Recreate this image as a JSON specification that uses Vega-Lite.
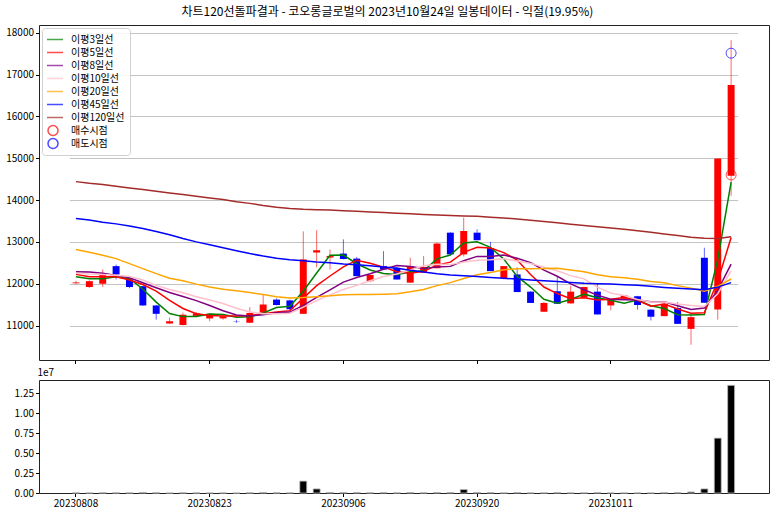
{
  "$schema": "https://vega.github.io/schema/vega-lite/v6.json",
  "padding": {"left": 5, "top": 5, "right": 5, "bottom": 5},
  "title": {"text": "차트120선돌파결과 - 코오롱글로벌의 2023년10월24일 일봉데이터 - 익절(19.95%)", "font": "Noto Sans CJK KR", "fontSize": 12, "fontWeight": "normal", "anchor": "middle", "offset": 6, "color": "#000"},
  "config": {
    "font": "Noto Sans CJK KR",
    "view": {"stroke": "#222", "strokeWidth": 1},
    "axis": {"domain": false, "labelFont": "Noto Sans CJK KR", "labelFontSize": 10, "labelColor": "#000", "tickColor": "#000", "tickSize": 3.5, "labelPadding": 2, "grid": false},
    "legend": {"labelFont": "Noto Sans CJK KR", "labelFontSize": 10, "labelColor": "#000"}
  },
  "datasets": {
    "signals": [
      {"date": "20231024", "series": "매수시점", "price": 14600},
      {"date": "20231024", "series": "매도시점", "price": 17510}
    ]
  },
  "data": {"values": [
    {"date":"20230808","open":12010,"high":12070,"low":11990,"close":12030,"volume":20000,"이평3일선":12168,"이평5일선":12223,"이평8일선":12288,"이평10일선":12250,"이평20일선":12820,"이평45일선":13560,"이평120일선":14440},
    {"date":"20230809","open":11920,"high":12080,"low":11900,"close":12060,"volume":15000,"이평3일선":12120,"이평5일선":12168,"이평8일선":12280,"이평10일선":12230,"이평20일선":12750,"이평45일선":13520,"이평120일선":14400},
    {"date":"20230810","open":12000,"high":12340,"low":11920,"close":12220,"volume":30000,"이평3일선":12120,"이평5일선":12168,"이평8일선":12247,"이평10일선":12220,"이평20일선":12680,"이평45일선":13470,"이평120일선":14370},
    {"date":"20230811","open":12420,"high":12460,"low":12100,"close":12220,"volume":25000,"이평3일선":12167,"이평5일선":12168,"이평8일선":12199,"이평10일선":12200,"이평20일선":12600,"이평45일선":13430,"이평120일선":14330},
    {"date":"20230814","open":12100,"high":12110,"low":11890,"close":11920,"volume":20000,"이평3일선":12120,"이평5일선":12090,"이평8일선":12143,"이평10일선":12170,"이평20일선":12480,"이평45일선":13380,"이평120일선":14290},
    {"date":"20230816","open":11940,"high":11950,"low":11470,"close":11480,"volume":70000,"이평3일선":11873,"이평5일선":11980,"이평8일선":12024,"이평10일선":12087,"이평20일선":12360,"이평45일선":13320,"이평120일선":14250},
    {"date":"20230817","open":11480,"high":11490,"low":11140,"close":11280,"volume":30000,"이평3일선":11560,"이평5일선":11824,"이평8일선":11904,"이평10일선":11960,"이평20일선":12240,"이평45일선":13250,"이평120일선":14210},
    {"date":"20230818","open":11050,"high":11190,"low":11040,"close":11100,"volume":15000,"이평3일선":11287,"이평5일선":11600,"이평8일선":11789,"이평10일선":11863,"이평20일선":12130,"이평45일선":13170,"이평120일선":14170},
    {"date":"20230821","open":11010,"high":11310,"low":11000,"close":11260,"volume":20000,"이평3일선":11213,"이평5일선":11408,"이평8일선":11693,"이평10일선":11784,"이평20일선":12070,"이평45일선":13080,"이평120일선":14130},
    {"date":"20230822","open":11230,"high":11320,"low":11200,"close":11290,"volume":15000,"이평3일선":11217,"이평5일선":11282,"이평8일선":11596,"이평10일선":11686,"이평20일선":11990,"이평45일선":13000,"이평120일선":14090},
    {"date":"20230823","open":11170,"high":11300,"low":11100,"close":11280,"volume":12000,"이평3일선":11277,"이평5일선":11242,"이평8일선":11479,"이평10일선":11611,"이평20일선":11920,"이평45일선":12930,"이평120일선":14050},
    {"date":"20230824","open":11170,"high":11240,"low":11140,"close":11220,"volume":15000,"이평3일선":11263,"이평5일선":11230,"이평8일선":11354,"이평10일선":11527,"이평20일선":11870,"이평45일선":12860,"이평120일선":14010},
    {"date":"20230825","open":11110,"high":11140,"low":11060,"close":11100,"volume":10000,"이평3일선":11200,"이평5일선":11230,"이평8일선":11251,"이평10일선":11415,"이평20일선":11830,"이평45일선":12790,"이평120일선":13960},
    {"date":"20230828","open":11065,"high":11440,"low":11060,"close":11300,"volume":20000,"이평3일선":11207,"이평5일선":11238,"이평8일선":11229,"이평10일선":11323,"이평20일선":11790,"이평45일선":12720,"이평120일선":13920},
    {"date":"20230829","open":11305,"high":11730,"low":11300,"close":11500,"volume":60000,"이평3일선":11300,"이평5일선":11280,"이평8일선":11256,"이평10일선":11281,"이평20일선":11740,"이평45일선":12660,"이평120일선":13870},
    {"date":"20230830","open":11620,"high":11650,"low":11480,"close":11490,"volume":30000,"이평3일선":11430,"이평5일선":11322,"이평8일선":11305,"이평10일선":11282,"이평20일선":11690,"이평45일선":12610,"이평120일선":13830},
    {"date":"20230831","open":11600,"high":11620,"low":11360,"close":11390,"volume":25000,"이평3일선":11460,"이평5일선":11356,"이평8일선":11321,"이평10일선":11293,"이평20일선":11660,"이평45일선":12570,"이평120일선":13800},
    {"date":"20230901","open":11280,"high":13250,"low":11280,"close":12580,"volume":1490000,"이평3일선":11820,"이평5일선":11652,"이평8일선":11483,"이평10일선":11441,"이평20일선":11670,"이평45일선":12550,"이평120일선":13780},
    {"date":"20230904","open":12745,"high":13280,"low":12390,"close":12800,"volume":510000,"이평3일선":12257,"이평5일선":11952,"이평8일선":11673,"이평10일선":11595,"이평20일선":11690,"이평45일선":12520,"이평120일선":13770},
    {"date":"20230905","open":12625,"high":12820,"low":12340,"close":12660,"volume":70000,"이평3일선":12680,"이평5일선":12184,"이평8일선":11853,"이평10일선":11732,"이평20일선":11709,"이평45일선":12500,"이평120일선":13760},
    {"date":"20230906","open":12720,"high":13060,"low":12580,"close":12590,"volume":60000,"이평3일선":12683,"이평5일선":12404,"이평8일선":12039,"이평10일선":11863,"이평20일선":11737,"이평45일선":12470,"이평120일선":13745},
    {"date":"20230907","open":12600,"high":12640,"low":12180,"close":12180,"volume":60000,"이평3일선":12477,"이평5일선":12562,"이평8일선":12149,"이평10일선":11959,"이평20일선":11743,"이평45일선":12450,"이평120일선":13730},
    {"date":"20230908","open":12060,"high":12210,"low":12040,"close":12210,"volume":30000,"이평3일선":12327,"이평5일선":12488,"이평8일선":12238,"이평10일선":12070,"이평20일선":11743,"이평45일선":12430,"이평120일선":13715},
    {"date":"20230911","open":12420,"high":12780,"low":12340,"close":12340,"volume":60000,"이평3일선":12243,"이평5일선":12396,"이평8일선":12344,"이평10일선":12174,"이평20일선":11749,"이평45일선":12400,"이평120일선":13700},
    {"date":"20230912","open":12380,"high":12400,"low":12100,"close":12100,"volume":25000,"이평3일선":12217,"이평5일선":12284,"이평8일선":12433,"이평10일선":12234,"이평20일선":11758,"이평45일선":12370,"이평120일선":13685},
    {"date":"20230913","open":12025,"high":12620,"low":12020,"close":12420,"volume":60000,"이평3일선":12287,"이평5일선":12250,"이평8일선":12413,"이평10일선":12327,"이평20일선":11805,"이평45일선":12320,"이평120일선":13670},
    {"date":"20230914","open":12265,"high":12660,"low":12260,"close":12400,"volume":30000,"이평3일선":12307,"이평5일선":12294,"이평8일선":12363,"이평10일선":12428,"이평20일선":11861,"이평45일선":12280,"이평120일선":13655},
    {"date":"20230915","open":12370,"high":12980,"low":12370,"close":12960,"volume":60000,"이평3일선":12593,"이평5일선":12444,"이평8일선":12400,"이평10일선":12466,"이평20일선":11954,"이평45일선":12240,"이평120일선":13640},
    {"date":"20230918","open":13220,"high":13230,"low":12700,"close":12700,"volume":60000,"이평3일선":12687,"이평5일선":12516,"이평8일선":12414,"이평10일선":12456,"이평20일선":12026,"이평45일선":12210,"이평120일선":13630},
    {"date":"20230919","open":12700,"high":13580,"low":12650,"close":13260,"volume":430000,"이평3일선":12973,"이평5일선":12748,"이평8일선":12549,"이평10일선":12516,"이평20일선":12124,"이평45일선":12190,"이평120일선":13620},
    {"date":"20230920","open":13220,"high":13300,"low":13040,"close":13040,"volume":60000,"이평3일선":13000,"이평5일선":12872,"이평8일선":12653,"이평10일선":12561,"이평20일선":12212,"이평45일선":12170,"이평120일선":13610},
    {"date":"20230921","open":12850,"high":13000,"low":12300,"close":12300,"volume":60000,"이평3일선":12867,"이평5일선":12852,"이평8일선":12648,"이평10일선":12573,"이평20일선":12266,"이평45일선":12150,"이평120일선":13590},
    {"date":"20230922","open":12130,"high":12420,"low":12100,"close":12420,"volume":20000,"이평3일선":12587,"이평5일선":12744,"이평8일선":12688,"이평10일선":12594,"이평20일선":12332,"이평45일선":12130,"이평120일선":13570},
    {"date":"20230925","open":12220,"high":12390,"low":11800,"close":11800,"volume":60000,"이평3일선":12173,"이평5일선":12564,"이평8일선":12610,"이평10일선":12540,"이평20일선":12357,"이평45일선":12110,"이평120일선":13545},
    {"date":"20230926","open":11810,"high":11820,"low":11540,"close":11540,"volume":20000,"이평3일선":11920,"이평5일선":12220,"이평8일선":12503,"이평10일선":12484,"이평20일선":12359,"이평45일선":12090,"이평120일선":13515},
    {"date":"20230927","open":11330,"high":11560,"low":11320,"close":11540,"volume":20000,"이평3일선":11627,"이평5일선":11920,"이평8일선":12325,"이평10일선":12396,"이평20일선":12362,"이평45일선":12070,"이평120일선":13485},
    {"date":"20231004","open":11820,"high":12180,"low":11520,"close":11520,"volume":50000,"이평3일선":11533,"이평5일선":11764,"이평8일선":12178,"이평10일선":12308,"이평20일선":12368,"이평45일선":12050,"이평120일선":13455},
    {"date":"20231005","open":11530,"high":11950,"low":11520,"close":11810,"volume":20000,"이평3일선":11623,"이평5일선":11642,"이평8일선":11996,"이평10일선":12193,"이평20일선":12330,"이평45일선":12030,"이평120일선":13420},
    {"date":"20231006","open":11665,"high":11930,"low":11660,"close":11920,"volume":20000,"이평3일선":11750,"이평5일선":11666,"이평8일선":11856,"이평10일선":12115,"이평20일선":12286,"이평45일선":12010,"이평120일선":13390},
    {"date":"20231010","open":11810,"high":12000,"low":11265,"close":11265,"volume":50000,"이평3일선":11665,"이평5일선":11611,"이평8일선":11727,"이평10일선":11916,"이평20일선":12216,"이평45일선":12000,"이평120일선":13360},
    {"date":"20231011","open":11480,"high":11630,"low":11360,"close":11620,"volume":15000,"이평3일선":11602,"이평5일선":11627,"이평8일선":11627,"이평10일선":11774,"이평20일선":12167,"이평45일선":11990,"이평120일선":13330},
    {"date":"20231012","open":11640,"high":11730,"low":11630,"close":11720,"volume":15000,"이평3일선":11535,"이평5일선":11667,"이평8일선":11617,"이평10일선":11716,"이평20일선":12144,"이평45일선":11975,"이평120일선":13300},
    {"date":"20231013","open":11700,"high":11710,"low":11380,"close":11490,"volume":15000,"이평3일선":11610,"이평5일선":11603,"이평8일선":11611,"이평10일선":11623,"이평20일선":12108,"이평45일선":11960,"이평120일선":13265},
    {"date":"20231016","open":11380,"high":11390,"low":11120,"close":11210,"volume":15000,"이평3일선":11473,"이평5일선":11461,"이평8일선":11569,"이평10일선":11564,"이평20일선":12052,"이평45일선":11940,"이평120일선":13230},
    {"date":"20231017","open":11225,"high":11530,"low":11220,"close":11520,"volume":50000,"이평3일선":11407,"이평5일선":11512,"이평8일선":11569,"이평10일선":11562,"이평20일선":12023,"이평45일선":11912,"이평120일선":13190},
    {"date":"20231018","open":11420,"high":11560,"low":11040,"close":11040,"volume":50000,"이평3일선":11257,"이평5일선":11396,"이평8일선":11473,"이평10일선":11512,"이평20일선":11954,"이평45일선":11890,"이평120일선":13150},
    {"date":"20231019","open":10920,"high":11300,"low":10540,"close":11200,"volume":130000,"이평3일선":11253,"이평5일선":11292,"이평8일선":11383,"이평10일선":11480,"이평20일선":11894,"이평45일선":11871,"이평120일선":13110},
    {"date":"20231020","open":12620,"high":12860,"low":11545,"close":11545,"volume":510000,"이평3일선":11262,"이평5일선":11303,"이평8일선":11418,"이평10일선":11453,"이평20일선":11823,"이평45일선":11856,"이평120일선":13085},
    {"date":"20231023","open":11385,"high":14990,"low":11140,"close":14990,"volume":6870000,"이평3일선":12578,"이평5일선":12059,"이평8일선":11839,"이평10일선":11760,"이평20일선":11938,"이평45일선":11918,"이평120일선":13080},
    {"date":"20231024","open":14580,"high":17820,"low":14100,"close":16750,"volume":13480000,"이평3일선":14428,"이평5일선":13105,"이평8일선":12468,"이평10일선":12309,"이평20일선":12112,"이평45일선":12025,"이평120일선":13120}
  ]},
  "vconcat": [
    {
      "width": 730,
      "height": 335,
      "encoding": {
        "x": {"field": "date", "type": "ordinal", "scale": {"paddingInner": 0, "paddingOuter": 0, "range": [30.3, 698.8]},
              "axis": {"title": null, "labels": false, "ticks": true, "values": ["20230808","20230823","20230906","20230920","20231011"]}}
      },
      "layer": [
        {
          "mark": {"type": "rule", "strokeWidth": 1, "opacity": 0.6},
          "encoding": {
            "y": {"field": "low", "type": "quantitative", "scale": {"domain": [10176, 18184], "nice": false, "zero": false},
                  "axis": {"title": null, "values": [11000,12000,13000,14000,15000,16000,17000,18000], "format": "d", "grid": true, "gridColor": "#c4c4c4", "gridWidth": 1, "minExtent": 33, "maxExtent": 33}},
            "y2": {"field": "high"},
            "color": {"condition": {"test": "datum.close >= datum.open", "value": "#ff0000"}, "value": "#0000ff"}
          }
        },
        {
          "mark": {"type": "bar", "width": {"band": 0.52}},
          "encoding": {
            "y": {"field": "open", "type": "quantitative"},
            "y2": {"field": "close"},
            "color": {"condition": {"test": "datum.close >= datum.open", "value": "#ff0000"}, "value": "#0000ff"}
          }
        },
        {
          "transform": [{"fold": ["이평3일선","이평5일선","이평8일선","이평10일선","이평20일선","이평45일선","이평120일선"], "as": ["series", "value"]}],
          "mark": {"type": "line", "strokeWidth": 1.5},
          "encoding": {
            "y": {"field": "value", "type": "quantitative"},
            "color": {"field": "series", "type": "nominal",
              "scale": {"domain": ["이평3일선","이평5일선","이평8일선","이평10일선","이평20일선","이평45일선","이평120일선","매수시점","매도시점"],
                        "range": ["#008000","#ff0000","#800080","#ffc0cb","#ffa500","#0000ff","#a52a2a","#ff0000","#0000ff"]},
              "legend": {"title": null, "orient": "top-left", "offset": 3, "padding": 5, "rowPadding": 0, "clipHeight": 13, "labelOffset": 12, "symbolSize": 100, "fillColor": "rgba(255,255,255,0.85)", "strokeColor": "#d0d0d0", "cornerRadius": 3, "symbolStrokeWidth": 1.5}}
          }
        },
        {
          "data": {"name": "signals"},
          "mark": {"type": "point", "filled": false, "strokeWidth": 1, "size": 100},
          "encoding": {
            "y": {"field": "price", "type": "quantitative"},
            "color": {"field": "series", "type": "nominal"},
            "shape": {"field": "series", "type": "nominal",
              "scale": {"domain": ["이평3일선","이평5일선","이평8일선","이평10일선","이평20일선","이평45일선","이평120일선","매수시점","매도시점"],
                        "range": ["M-2,0H2","M-2,0H2","M-2,0H2","M-2,0H2","M-2,0H2","M-2,0H2","M-2,0H2","circle","circle"]},
              "legend": {"title": null}}
          }
        }
      ]
    },
    {
      "width": 730,
      "height": 113,
      "mark": {"type": "bar", "width": {"band": 0.52}, "color": "#000", "stroke": "#b8b8b8", "strokeWidth": 0.8},
      "encoding": {
        "x": {"field": "date", "type": "ordinal", "scale": {"paddingInner": 0, "paddingOuter": 0, "range": [30.3, 698.8]},
              "axis": {"title": null, "labelAngle": 0, "values": ["20230808","20230823","20230906","20230920","20231011"]}},
        "y": {"field": "volume", "type": "quantitative", "scale": {"domain": [0, 14150000], "nice": false},
              "axis": {"title": "1e7", "titleAngle": 0, "titleAlign": "left", "titleBaseline": "bottom", "titleX": -2, "titleY": -3, "titleFontSize": 10, "titleFontWeight": "normal", "values": [0, 2500000, 5000000, 7500000, 10000000, 12500000], "labelExpr": "format(datum.value / 10000000, '.2f')", "minExtent": 33, "maxExtent": 33}}
      }
    }
  ],
  "spacing": 1,
  "resolve": {"scale": {"x": "shared"}}
}
